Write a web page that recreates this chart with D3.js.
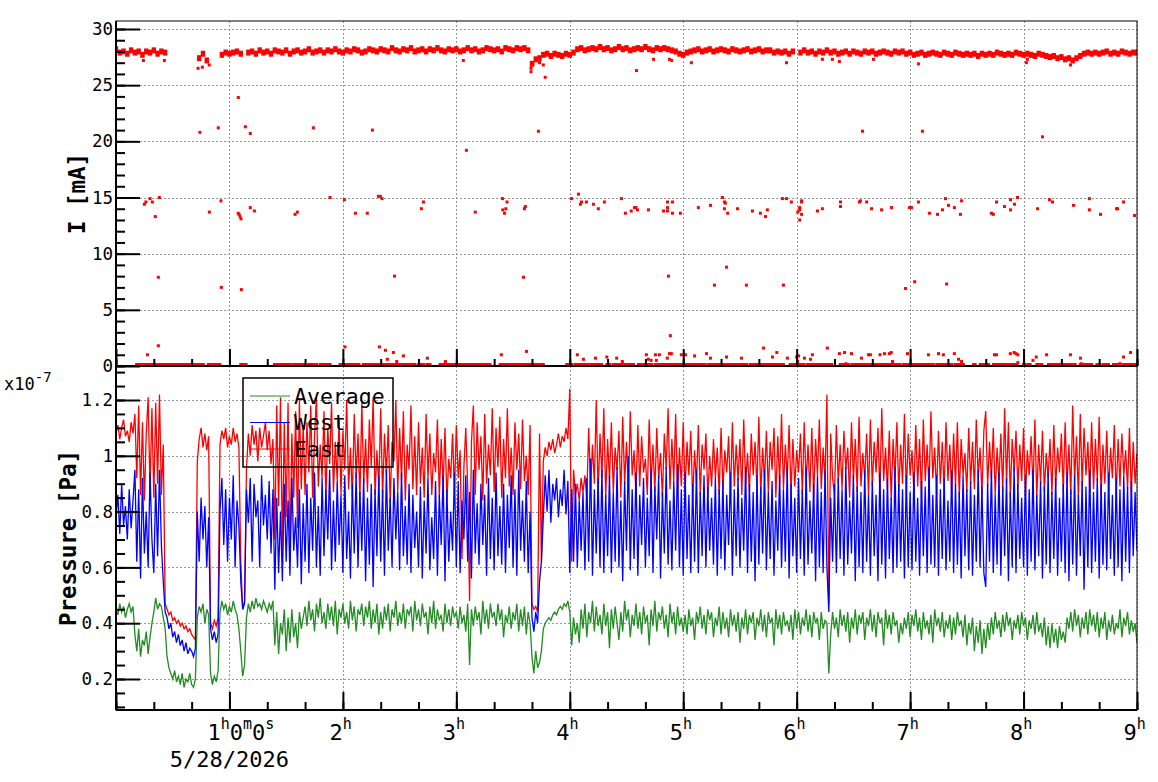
<!DOCTYPE html>
<html>
<head>
<meta charset="utf-8" />
<title>Beam current and pressure</title>
<script src="https://cdn.jsdelivr.net/npm/d3@7"></script>
<style>
  body { margin: 0; background: #fff; }
  svg { display: block; font-family: "DejaVu Sans Mono", monospace; }
</style>
</head>
<body>
<svg id="chart" width="1158" height="782"></svg>
<script>
// current band is sampled every 2 minutes, pressures every minute, from 0:00
var BAND_STEP = 2;
var P_STEP = 1;

// beam current band (mA), null where the beam was off
var currentBand = [
  28.2, 27.9, 28.0, 27.8, 28.1, 27.9, 28.0, 27.7, 28.0, 27.9,
  28.1, 27.8, 28.0, 27.9, null, null, null, null, null, null,
  null, null, 27.4, 27.8, 27.2, null, null, null, 27.7, 27.9,
  27.8, 27.9, 28.0, 27.8, null, 27.9, 28.0, 27.8, 28.1, 27.9,
  28.0, 27.8, 28.1, 28.0, 27.9, 28.1, 27.8, 28.0, 28.1, 27.9,
  28.0, 28.2, 27.9, 28.0, 28.1, 27.9, 28.1, 28.0, 28.2, 28.0,
  27.9, 28.1, 28.0, 28.2, 28.1, 27.9, 28.0, 28.2, 28.1, 28.0,
  28.2, 28.1, 28.0, 28.3, 28.1, 28.0, 28.2, 28.1, 28.3, 28.0,
  28.1, 28.2, 28.0, 28.2, 28.1, 28.3, 28.1, 28.0, 28.2, 28.1,
  28.2, 28.0, 28.1, 28.3, 28.1, 28.2, 28.0, 28.1, 28.3, 28.2,
  28.1, 28.2, 28.0, 28.3, 28.2, 28.1, 28.3, 28.2, 28.3, 28.1,
  26.9, 27.3, 27.4, 27.7, 27.8, 27.6, 27.8, 27.7, 27.6, 27.8,
  27.7, 27.9, 28.2, 28.3, 28.1, 28.2, 28.3, 28.2, 28.4, 28.2,
  28.3, 28.1, 28.2, 28.4, 28.2, 28.3, 28.1, 28.2, 28.3, 28.2,
  28.4, 28.2, 28.1, 28.3, 28.2, 28.3, 28.2, 28.1, 28.0, 27.8,
  27.7, 27.9, 28.0, 28.1, 28.2, 28.0, 28.1, 28.2, 28.0, 28.1,
  28.2, 28.1, 28.0, 28.2, 28.1, 28.0, 28.1, 28.2, 28.0, 28.1,
  28.2, 28.0, 28.1, 28.1, 27.9, 28.0, 27.9, 28.0, 27.8, 28.0,
  null, 27.9, 28.1, 27.9, 28.0, 27.8, 28.0, 27.9, 28.1, 27.9,
  28.0, 27.8, 27.9, 28.0, 27.8, 28.0, 27.9, 27.8, 28.0, 27.9,
  28.0, 27.8, 27.9, 28.0, 27.9, 27.8, 28.0, 27.9, 28.0, 27.8,
  27.9, 27.7, 27.8, 27.9, 27.7, 27.8, 27.9, 27.8, 27.7, 27.9,
  27.8, 27.7, 27.9, 27.8, 27.7, 27.8, 27.7, 27.8, 27.6, 27.8,
  27.7, 27.8, 27.7, 27.9, 27.8, 27.7, 27.8, 27.7, 27.9, 27.8,
  27.7, 27.8, 27.7, 27.6, 27.8, 27.7, 27.6, 27.5, 27.6, 27.4,
  27.5, 27.3, 27.4, 27.2, 27.4, 27.6, 27.8, 27.9, 27.8, 27.9,
  27.8, 27.9, 28.0, 27.8, 27.9, 27.8, 28.0, 27.9, 27.8, 27.9,
  27.9
];

// isolated current readings [minute, mA]
var currentOutliers = [
  [14.5,27.2],[25.6,27.2],[43.4,26.5],[45.7,26.6],[49.3,26.8],[183.7,27.2],[219.5,26.2],
  [219.5,26.5],[220.5,26.9],[224,27.0],[226,26.8],[227,25.7],[275.3,26.3],[284.3,27.3],
  [292.7,27.3],[293.9,27.2],[304.3,27.0],[354.6,27.0],[373.6,27.3],[378.9,27.3],[382.6,27.1],
  [400.6,27.3],[424.4,26.9],[481.5,27.0],[482,27.3],[504.8,26.8],
  [64.7,23.9],[44.4,20.8],[54.1,21.2],[68.4,21.3],[71,20.7],[104.4,21.2],[135.6,21.0],
  [185.3,19.2],[223.4,20.9],[394.8,20.9],[426.5,20.9],[490,20.4],
  [15,14.4],[15.8,14.6],[18,14.9],[19.2,14.6],[20.8,13.3],[22.9,15.0],[49.4,13.7],[55.5,14.7],
  [64.6,13.6],[65.1,13.5],[65.6,13.3],[66.1,13.1],[71,14.1],[73.2,13.8],[94.7,13.5],[95.9,13.7],
  [113.2,15.0],[120.8,14.8],[126.6,13.6],[132.9,13.6],[138.8,15.1],[139.8,15.1],[140.7,14.9],
  [161.5,14.0],[162.6,14.6],[190,13.7],[204.4,14.9],[204.6,13.9],[205.5,13.6],[206.2,14.0],
  [206.8,14.6],[216,14.0],[216.5,14.2],[240.9,14.9],[244.6,15.3],[245.6,14.4],[246.2,14.6],
  [248.8,14.6],[252.5,14.4],[255.1,14.0],[258.3,14.6],[267.3,14.9],[269.4,13.6],[272.5,13.8],
  [274.2,14.1],[275,14.1],[275.8,13.9],[281.6,13.9],[289.6,13.8],[291.7,14.6],[291.7,14.1],
  [291.7,13.8],[294.3,14.6],[294.3,13.6],[298.5,13.6],[308,14.1],[314.4,14.3],[320.7,15.0],
  [321.8,14.6],[322.3,14.5],[321.8,14.0],[323.5,13.6],[328.7,14.0],[336.6,13.8],[340.8,13.6],
  [343.5,13.3],[344.5,13.9],[352.5,14.9],[354.6,14.9],[357.2,14.6],[360.6,13.7],[361.6,14.1],
  [361.6,13.9],[362.6,14.7],[362.6,14.6],[361.6,13.0],[362.6,13.5],[371,13.8],[373.6,14.0],
  [383.2,14.6],[383.2,14.2],[393.2,14.6],[393.7,14.7],[397,14.6],[399.6,14.0],[404.9,13.9],
  [410.2,14.1],[419.7,14.1],[420.7,14.1],[424.4,14.6],[430.2,13.6],[434.5,13.5],[437.1,13.9],
  [438.7,14.9],[440.3,14.3],[443.4,14.1],[446.6,13.5],[447.2,14.7],[463,13.6],[464,13.5],
  [465.7,14.6],[469.9,14.2],[473.1,14.8],[473.1,13.9],[475.2,14.4],[476.8,15.0],[487.4,14.0],
  [493.7,14.8],[495.3,14.6],[506.4,14.3],[514.8,14.9],[514.8,13.9],[520.7,13.5],[529.2,14.0],
  [529.7,14.0],[532.9,14.6],[538.7,13.4],
  [22.4,7.9],[55.7,7.0],[66.3,6.8],[147.3,8.0],[215.5,7.9],[292.2,8.0],[316.5,7.2],[322.9,8.8],
  [333.4,7.2],[353,7.2],[417.6,6.9],[422.4,7.5],[439.3,7.3],
  [22.4,1.8],[16.6,1.0],[121.1,1.7],[139.3,1.7],[142.5,1.4],[146.7,1.2],[143.5,0.6],[148.5,0.4],
  [152,0.9],[164.7,0.7],[174.2,0.4],[203.8,1.0],[217.1,1.3],[244,1.0],[247.2,0.6],[253.6,0.7],
  [259.6,0.8],[264.8,0.7],[267.8,0.4],[280.5,1.0],[281.5,0.6],[283,0.5],[285.3,1.0],[287.4,1.0],
  [285.8,0.5],[291.6,0.7],[292.7,1.1],[293.7,1.1],[293.2,2.7],[299,1.0],[301.2,1.0],[306,0.9],
  [312.3,1.1],[314.4,0.7],[322.9,0.8],[330.8,0.7],[342.5,1.6],[349.5,1.2],[347.2,0.8],[355.1,0.7],
  [360,0.8],[360.5,0.4],[361,0.9],[364.1,0.7],[367.3,0.6],[368.3,1.0],[376.2,1.6],[382.6,1.1],
  [385.3,1.2],[386,0.2],[389,1.1],[394.3,0.7],[398,1.0],[399,1.0],[404.1,1.0],[406.4,1.1],
  [409,1.1],[410,1.2],[410.7,0.4],[418.6,1.1],[429.7,1.0],[435,1.1],[437.6,1.0],[443.4,1.1],
  [445.6,0.6],[447.2,0.4],[464.6,1.0],[465.7,1.0],[473,1.1],[475,1.2],[476,1.1],[477,1.0],
  [477,0.3],[485,0.5],[486.7,0.8],[492.2,1.0],[504.8,1.0],[510.1,0.7],[510.5,0.2],[532.9,0.8],
  [536.6,1.2],[531,0.2]
];

// stretches (start, end minute) where the current readings sit at 0
var currentZeroRuns = [
  [10.9,46.2],[48.8,55],[66,68.8],[83.8,92],[93.5,99.5],[101.7,106.2],[108,113.2],[118.5,123.8],
  [124.7,128.5],[130.8,136.1],[137,158.2],[160,162.6],[164.4,166.1],[171.4,174.9],[175.8,182.9],
  [183.7,190.8],[191.7,197.8],[203.1,217.3],[218.1,226],[238.4,241.1],[242.8,256.9],[259.6,261.3],
  [263.1,273.7],[276.3,279],[280.7,283.3],[285.1,291.3],[292.2,299.2],[301.5,311.6],[313.3,319.5],
  [320.4,325.7],[326.6,333.6],[335.4,353],[356.5,359.2],[360.4,363.6],[365.4,376],[376.8,378.6],
  [383,387.4],[389.2,401.5],[402.4,407.7],[408.6,414.7],[416.5,419.1],[420.9,432.3],[434.1,442.1],
  [443.8,448.2],[453.5,454.4],[457.1,461.5],[464.1,476.5],[480,480.9],[482.6,483.5],[487,489.7],
  [493.2,500.2],[501.1,507.3],[510,516.1],[518.8,520.5],[522.3,524.9],[527.6,531.1],[532.9,540]
];

// pressures in units of 1e-9 Pa, one line per 20 minutes
var eastPressure = [
  108,111,106,110,113,107,109,105,112,108,115,92,118,86,112,84,108,121,88,117,
  85,119,90,122,86,104,47,45,43,44,41,42,40,41,39,40,38,39,37,38,
  36,35,34,98,106,110,103,108,102,107,40,38,41,39,42,104,109,106,110,103,
  107,104,110,105,108,103,62,45,48,95,108,100,111,104,109,98,110,103,107,112,
  102,109,97,106,70,118,82,121,66,112,78,119,62,108,85,116,74,120,88,111,
  86,112,94,118,85,107,121,89,104,92,116,84,110,97,119,87,105,91,113,86,
  109,95,120,88,103,85,115,92,108,84,119,90,106,87,113,96,121,86,102,89,
  117,85,108,93,111,83,105,98,120,87,110,91,116,84,104,95,118,88,107,86,
  112,90,103,85,115,92,108,86,101,94,113,85,106,89,110,84,99,92,108,87,
  111,92,102,63,96,110,89,48,105,118,86,112,95,107,84,115,90,104,93,117,
  87,110,96,114,85,106,92,117,89,103,86,112,95,108,88,113,91,100,86,111,
  47,45,46,44,108,62,98,103,100,105,102,106,101,104,108,103,107,105,110,106,
  124,62,95,86,90,84,92,87,93,85,110,88,104,90,120,86,108,92,117,85,
  106,91,112,87,103,95,109,85,114,90,105,88,116,93,102,86,111,89,107,94,
  99,86,113,90,104,87,110,92,101,85,108,95,117,88,106,91,115,86,103,89,
  112,87,105,93,109,84,102,90,111,86,104,95,108,85,100,89,106,92,103,86,
  110,88,102,94,107,85,112,89,104,91,106,86,113,90,101,87,108,93,105,88,
  114,86,103,91,109,87,105,95,110,85,107,90,115,88,104,92,111,86,106,89,
  102,94,108,86,112,90,104,87,110,85,106,93,113,88,103,91,122,47,108,92,
  86,111,90,104,88,109,95,103,85,112,91,106,87,114,89,101,92,108,86,113,
  89,105,94,110,86,117,91,103,88,109,84,106,92,112,87,104,90,115,86,108,
  93,102,87,111,89,106,85,113,91,104,88,116,92,103,86,109,90,105,87,112,
  91,104,86,108,89,112,85,106,93,101,87,110,90,105,88,113,92,103,86,109,
  116,89,105,92,110,86,103,91,108,87,117,90,112,85,106,94,109,88,104,91,
  110,86,102,93,107,88,113,85,104,90,109,87,101,92,106,86,111,89,103,94,
  108,87,112,90,104,86,118,91,107,85,115,89,110,93,105,87,112,88,106,91,
  114,86,104,90,109,87,103,92,111,85,106,89,108,93,102,88,110,86,105,90,
  101
];

var westPressure = [
  78,86,72,90,75,82,70,88,74,84,95,62,88,56,92,65,80,60,94,70,
  58,90,64,95,68,55,44,42,38,40,35,37,33,36,32,34,30,33,29,31,
  30,28,31,80,62,85,70,82,60,78,38,34,37,33,36,80,92,68,88,62,
  85,70,93,60,84,75,55,45,47,88,76,92,62,90,78,84,60,93,75,86,
  70,91,65,88,52,85,58,80,55,90,62,84,57,92,66,78,60,88,54,83,
  62,90,58,85,66,94,60,82,57,92,64,88,70,95,59,84,62,91,68,86,
  58,93,63,80,56,90,65,94,60,87,66,92,55,85,61,90,53,88,64,93,
  62,88,57,95,66,85,60,92,70,87,59,94,64,82,61,90,58,86,67,80,
  60,89,56,84,65,92,59,78,63,91,57,86,68,93,55,88,62,80,66,94,
  60,91,58,84,70,93,62,87,56,95,65,83,61,90,68,86,57,92,63,85,
  59,94,64,82,61,90,58,86,67,93,60,88,57,95,66,84,62,91,58,80,
  42,37,44,40,55,62,78,93,80,95,76,90,84,92,78,88,82,95,79,91,
  58,88,62,90,60,84,66,87,59,92,62,99,57,88,65,92,60,95,58,86,
  64,93,58,87,62,96,60,84,55,91,66,100,59,88,63,94,57,86,68,92,
  60,85,64,95,58,89,70,93,56,87,65,96,61,84,59,91,66,97,60,88,
  57,94,63,86,58,90,62,95,58,87,64,93,60,89,66,85,61,92,57,88,
  63,91,59,86,68,94,57,88,64,92,60,85,66,96,58,90,62,87,55,93,
  61,89,65,95,59,87,63,91,57,84,66,93,60,88,62,96,56,90,64,85,
  58,92,63,88,57,96,61,84,65,90,55,93,60,87,58,95,60,44,85,62,
  90,58,92,63,88,57,96,61,84,65,93,55,89,60,87,58,95,62,86,57,
  91,64,86,55,94,61,88,56,92,63,85,58,96,60,90,62,88,56,93,60,
  87,59,94,62,85,57,91,64,89,58,96,61,86,60,93,57,88,63,92,59,
  84,62,95,58,90,61,87,56,93,64,88,59,91,57,86,62,95,60,89,58,
  53,90,62,95,58,86,61,94,57,89,64,92,55,87,60,96,58,90,63,85,
  60,93,57,88,62,95,59,86,64,91,56,89,61,94,58,87,63,92,57,85,
  62,90,58,94,55,88,61,93,57,86,64,91,52,89,60,95,58,87,62,92,
  56,90,61,87,59,94,63,86,57,92,60,88,55,93,62,89,58,91,64,87,
  66
];

var averagePressure = [
  45,43,47,44,46,42,45,47,44,46,36,30,38,28,34,32,37,29,35,40,
  44,49,45,47,46,42,38,28,24,22,20,23,19,21,18,22,17,20,19,22,
  18,17,20,42,46,44,47,40,45,43,22,18,21,19,23,44,48,45,47,43,
  46,44,48,45,43,38,30,21,25,42,47,44,48,45,49,46,47,45,48,46,
  44,47,45,48,32,44,29,40,36,45,30,42,33,45,35,40,31,44,38,42,
  46,39,48,41,45,37,47,42,49,40,44,38,47,41,46,39,48,36,45,42,
  47,40,44,38,48,41,46,37,45,43,47,39,46,42,48,38,45,40,47,36,
  44,38,46,41,47,37,45,42,48,39,44,40,47,38,45,43,46,37,48,41,
  45,39,47,42,44,36,46,40,48,38,45,41,43,37,47,40,45,39,46,42,
  44,38,46,40,43,37,47,25,45,39,46,41,44,36,48,40,45,38,47,42,
  44,39,47,41,45,35,43,40,46,38,44,41,47,37,45,39,46,36,44,40,
  28,22,30,24,26,30,38,40,41,42,41,43,44,43,45,46,45,47,46,48,
  44,32,42,36,40,33,45,38,47,35,44,40,48,37,46,39,43,36,47,39,
  44,31,45,38,46,40,34,44,37,48,41,45,35,43,39,47,38,44,36,46,
  40,43,32,45,39,48,37,44,41,46,38,43,35,47,40,44,36,46,39,42,
  37,43,36,45,39,42,34,44,40,46,38,43,36,45,41,44,35,42,39,46,
  36,44,38,42,35,45,39,43,37,44,33,42,38,45,36,43,40,44,34,42,
  39,45,37,43,35,44,40,42,32,45,38,43,36,44,39,41,37,43,34,45,
  38,44,36,42,39,45,37,43,35,44,40,42,34,44,38,41,40,22,36,44,
  38,42,35,45,39,43,37,44,33,42,38,45,36,43,40,44,34,42,39,45,
  37,43,35,44,40,42,32,45,38,43,36,44,39,41,33,40,36,42,38,44,
  35,43,39,45,37,42,34,44,38,41,36,43,33,45,39,42,37,44,35,41,
  38,43,34,42,36,44,39,41,35,43,32,40,36,42,30,39,33,41,29,38,
  31,40,34,42,36,44,38,41,35,43,37,44,39,42,34,41,38,43,36,44,
  39,42,34,41,38,43,36,44,37,40,35,42,32,39,31,40,33,38,31,39,
  34,37,33,42,38,44,37,45,39,43,35,42,38,44,36,45,39,43,37,44,
  35,42,38,44,34,41,37,43,36,40,38,45,35,42,39,44,36,41,37,40,
  33
];

// axis labels
var hourTicks = [1, 2, 3, 4, 5, 6, 7, 8, 9];
var hourLabels = ["1^{h}0^{m}0^{s}", "2^{h}", "3^{h}", "4^{h}", "5^{h}", "6^{h}", "7^{h}", "8^{h}", "9^{h}"];
var dateLabel = "5/28/2026";
var currentTicks = [0, 5, 10, 15, 20, 25, 30];
var pressureTicks = [20, 40, 60, 80, 100, 120];
var seriesNames = ["Average", "West", "East"];
var seriesColors = ["#228b22", "#0000ff", "#ff0000"];

var svg = d3.select("#chart");
svg.append("rect").attr("width", 1158).attr("height", 782).attr("fill", "#fff");

var L = 116, R = 1137, T1 = 21, B1 = 366, B2 = 710;

var x = d3.scaleLinear().domain([0, 540]).range([L, R]);
var yI = d3.scaleLinear().domain([0, 30]).range([366, 29]);
var yP = d3.scaleLinear().domain([20, 120]).range([679, 400]);

var defs = svg.append("defs");
defs.append("clipPath").attr("id", "clipTop")
  .append("rect").attr("x", L).attr("y", T1).attr("width", R - L).attr("height", B1 - T1);
defs.append("clipPath").attr("id", "clipBot")
  .append("rect").attr("x", L).attr("y", B1).attr("width", R - L).attr("height", B2 - B1);

// dotted grid
function grid(y0, y1, yScale, yTicks) {
  var g = svg.append("g").attr("stroke", "#999").attr("stroke-width", 1).attr("stroke-dasharray", "2,2");
  g.selectAll(".gv").data(hourTicks).enter().append("line")
    .attr("x1", d => Math.round(x(d * 60)) + 0.5).attr("x2", d => Math.round(x(d * 60)) + 0.5)
    .attr("y1", y0).attr("y2", y1);
  g.selectAll(".gh").data(yTicks).enter().append("line")
    .attr("x1", L).attr("x2", R)
    .attr("y1", d => Math.round(yScale(d)) + 0.5).attr("y2", d => Math.round(yScale(d)) + 0.5);
}
grid(T1, B1, yI, currentTicks.slice(1));
grid(B1, B2, yP, pressureTicks);

// ---- top pad: beam current
var padI = svg.append("g").attr("clip-path", "url(#clipTop)").attr("fill", "#ff0000");
padI.selectAll(".zero").data(currentZeroRuns).enter().append("rect")
  .attr("x", d => x(d[0]) - 1.5).attr("width", d => x(d[1]) - x(d[0]) + 3)
  .attr("y", yI(0) - 3).attr("height", 3);
var band = currentBand.map((v, i) => ({ t: i * BAND_STEP, v: v })).filter(d => d.v != null);
padI.selectAll(".band").data(band).enter().append("rect")
  .attr("x", d => x(d.t) - 2.2).attr("width", 4.4)
  .attr("y", d => yI(d.v) - 3).attr("height", 6);
padI.selectAll(".out").data(currentOutliers).enter().append("rect")
  .attr("x", d => x(d[0]) - 1.5).attr("y", d => yI(d[1]) - 1.5)
  .attr("width", 3).attr("height", 3);

// ---- bottom pad: pressures (East first, Average on top)
var padP = svg.append("g").attr("clip-path", "url(#clipBot)").attr("fill", "none");
var line = d3.line().x((d, i) => x(i * P_STEP)).y(d => yP(d));
[eastPressure, westPressure, averagePressure].forEach(function (arr, k) {
  padP.append("path").attr("d", line(arr))
    .attr("stroke", seriesColors[2 - k]).attr("stroke-width", 1.3);
});

// ---- frames
svg.append("rect").attr("x", L).attr("y", T1).attr("width", R - L).attr("height", B1 - T1)
  .attr("fill", "none").attr("stroke", "#000").attr("stroke-width", 1);
svg.append("rect").attr("x", L).attr("y", B1).attr("width", R - L).attr("height", B2 - B1)
  .attr("fill", "none").attr("stroke", "#000").attr("stroke-width", 1);

// ---- axes
function styleAxis(g) {
  g.select(".domain").remove();
  g.selectAll(".tick line").attr("stroke", "#000").attr("stroke-width", 2);
  g.selectAll(".tick text").attr("fill", "#000")
    .attr("font-family", '"DejaVu Sans Mono", monospace').attr("font-size", 17.5);
}
var minutesMajor = hourTicks.map(h => h * 60).concat([0]);
var minutesMinor = d3.range(0, 541, 20);

// top pad
svg.append("g").attr("transform", "translate(" + L + ",0)")
  .call(d3.axisLeft(yI).tickValues(currentTicks).tickSize(-24).tickPadding(3).tickFormat(d3.format("d")))
  .call(styleAxis);
svg.append("g").attr("transform", "translate(" + L + ",0)")
  .call(d3.axisLeft(yI).tickValues(d3.range(0, 31)).tickSize(-9).tickFormat(""))
  .call(styleAxis);
svg.append("g").attr("transform", "translate(0," + B1 + ")")
  .call(d3.axisBottom(x).tickValues(minutesMajor).tickSize(-17).tickFormat(""))
  .call(styleAxis);
svg.append("g").attr("transform", "translate(0," + B1 + ")")
  .call(d3.axisBottom(x).tickValues(minutesMinor).tickSize(-7).tickFormat(""))
  .call(styleAxis);

// bottom pad, labels shown in units of 1e-7 Pa
svg.append("g").attr("transform", "translate(" + L + ",0)")
  .call(d3.axisLeft(yP).tickValues(pressureTicks).tickSize(-24).tickPadding(3).tickFormat(d => String(d / 100)))
  .call(styleAxis);
svg.append("g").attr("transform", "translate(" + L + ",0)")
  .call(d3.axisLeft(yP).tickValues(d3.range(10, 131, 5)).tickSize(-9).tickFormat(""))
  .call(styleAxis);
svg.append("g").attr("transform", "translate(0," + B2 + ")")
  .call(d3.axisBottom(x).tickValues(minutesMajor).tickSize(-18).tickFormat(""))
  .call(styleAxis);
svg.append("g").attr("transform", "translate(0," + B2 + ")")
  .call(d3.axisBottom(x).tickValues(minutesMinor).tickSize(-8).tickFormat(""))
  .call(styleAxis);

// thick axis lines
svg.append("line").attr("x1", L).attr("x2", L).attr("y1", T1).attr("y2", B2).attr("stroke", "#000").attr("stroke-width", 2);
svg.append("line").attr("x1", L).attr("x2", R).attr("y1", B1).attr("y2", B1).attr("stroke", "#000").attr("stroke-width", 2);
svg.append("line").attr("x1", L).attr("x2", R).attr("y1", B2).attr("y2", B2).attr("stroke", "#000").attr("stroke-width", 2);

// time labels with superscript units
var xl = svg.append("g").attr("fill", "#000");
hourTicks.forEach(function (h, i) {
  var parts = hourLabels[i].split(/(\^\{[^}]*\})/).filter(s => s.length);
  var t = xl.append("text").attr("x", x(h * 60) - (i === 0 ? 22 : 13.5)).attr("y", 740)
    .attr("font-size", 22);
  var raised = false;
  parts.forEach(function (p) {
    if (p[0] === "^") {
      t.append("tspan").attr("font-size", 15).attr("dy", raised ? 0 : -11).text(p.slice(2, -1));
      raised = true;
    } else {
      t.append("tspan").attr("font-size", 22).attr("dy", raised ? 11 : 0).text(p);
      raised = false;
    }
  });
});
xl.append("text").attr("x", x(60)).attr("y", 767).attr("text-anchor", "middle")
  .attr("font-size", 22).text(dateLabel);

// axis titles
svg.append("text").attr("transform", "translate(85," + (T1 + B1) / 2 + ") rotate(-90)")
  .attr("text-anchor", "middle").attr("font-weight", "bold").attr("font-size", 22.5).text("I [mA]");
svg.append("text").attr("transform", "translate(76," + (B1 + B2) / 2 + ") rotate(-90)")
  .attr("text-anchor", "middle").attr("font-weight", "bold").attr("font-size", 22.5).text("Pressure [Pa]");
var ex = svg.append("text").attr("x", 4).attr("y", 390).attr("font-size", 17).text("x10");
ex.append("tspan").attr("font-size", 14).attr("dy", -8).text("-7");

// legend
var lg = svg.append("g");
lg.append("rect").attr("x", 243).attr("y", 378).attr("width", 150).attr("height", 89)
  .attr("fill", "none").attr("stroke", "#000").attr("stroke-width", 1.5);
seriesNames.forEach(function (name, i) {
  var yy = 396 + i * 26.5;
  lg.append("line").attr("x1", 250).attr("x2", 290).attr("y1", yy).attr("y2", yy)
    .attr("stroke", seriesColors[i]).attr("stroke-width", 1);
  lg.append("text").attr("x", 294).attr("y", yy).attr("dominant-baseline", "central")
    .attr("font-size", 21.5).attr("fill", "#000").text(name);
});
</script>
</body>
</html>
